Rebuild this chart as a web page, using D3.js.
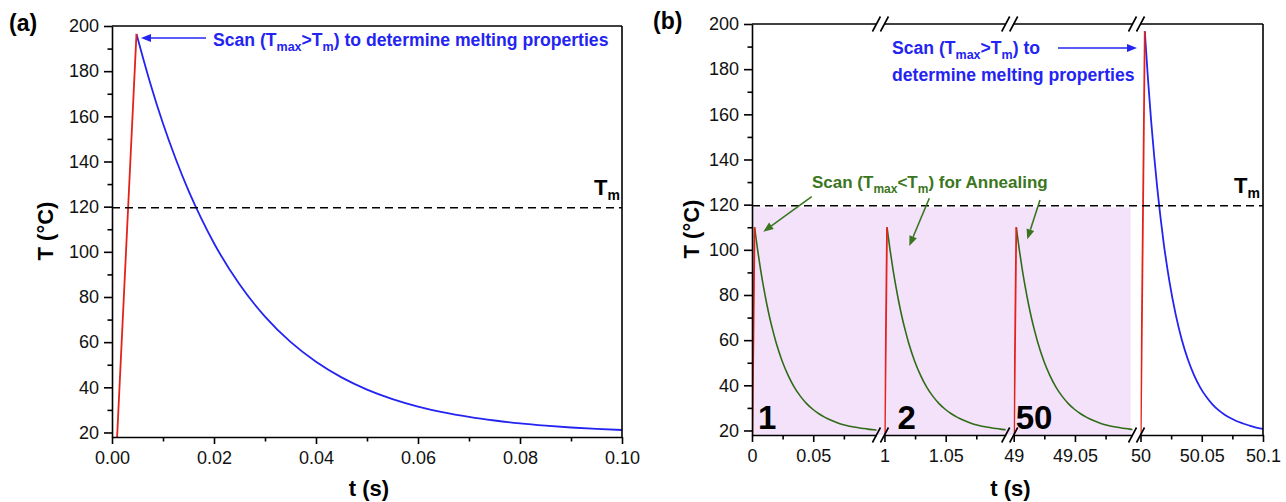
<!DOCTYPE html>
<html>
<head>
<meta charset="utf-8">
<script src="https://cdn.jsdelivr.net/npm/d3@7"></script>
<style>
body { margin: 0; background: #fff; }
text { font-family: "Liberation Sans", Arial, sans-serif; }
</style>
</head>
<body>
<svg width="1286" height="502"></svg>
<script>
// ---------- data ----------
const tempRange = [18, 200];
const tempMajor = [20, 40, 60, 80, 100, 120, 140, 160, 180, 200];
const tempMinor = [30, 50, 70, 90, 110, 130, 150, 170, 190];
const meltTemp = 119.5;

// panel (a): single melting scan
const aTimeMajor = [0, 0.02, 0.04, 0.06, 0.08, 0.10];
const aTimeMinor = [0.01, 0.03, 0.05, 0.07, 0.09];
const aHeatTime = [0.001, 0.0048];
const aHeatTemp = [18, 196.5];
const aCoolTime = [0.0048, 0.0075, 0.010, 0.0125, 0.015, 0.0175, 0.020, 0.025, 0.030, 0.035,
  0.040, 0.045, 0.050, 0.055, 0.060, 0.065, 0.070, 0.075, 0.080, 0.085, 0.090, 0.095, 0.100];
const aCoolTemp = [196.5, 174.7, 156.8, 141.1, 127.1, 114.8, 103.8, 85.6, 71.3, 60.1,
  51.3, 44.4, 39.0, 34.8, 31.5, 28.9, 26.9, 25.3, 24.0, 23.0, 22.2, 21.6, 21.1];

// panel (b): annealing cycles then melting scan, broken time axis
const bSegments = [[0, 0.1016], [1, 1.099], [49, 49.097], [50, 50.1]];
const bTimeMajor = [0, 0.05, 1, 1.05, 49, 49.05, 50, 50.05, 50.1];
const bTimeMinor = [0.025, 0.075, 1.025, 1.075, 49.025, 49.075, 50.025, 50.075];
const cycleStart = [0, 1, 49];
const cycleLabel = ["1", "2", "50"];
const annealHeatTime = [0.0003, 0.0021];          // time after cycle start
const annealHeatTemp = [18, 110];
const annealCoolTime = [0.0021, 0.0046, 0.0071, 0.0096, 0.0121, 0.0146, 0.0171, 0.0196, 0.0246,
  0.0296, 0.0346, 0.0396, 0.0446, 0.0496, 0.0546, 0.0596, 0.0646, 0.0696, 0.0746, 0.0796,
  0.0846, 0.0896, 0.0946, 0.0996, 0.1030];
const annealCoolTemp = [110, 99.9, 90.9, 83.0, 75.9, 69.6, 64.1, 59.1, 50.8,
  44.3, 39.1, 35.1, 31.9, 29.4, 27.4, 25.8, 24.5, 23.4, 22.5, 21.9,
  21.4, 21.0, 20.6, 20.3, 20.1];
const annealZone = [0, 49.0955];
const annealZoneTop = 118.8;
const bHeatTime = [50.0002, 50.0035];
const bHeatTemp = [18, 196.8];
const bCoolTime = [50.0035, 50.0062, 50.0087, 50.0112, 50.0137, 50.0162, 50.0187, 50.0237, 50.0287,
  50.0337, 50.0387, 50.0437, 50.0487, 50.0537, 50.0587, 50.0637, 50.0687, 50.0737, 50.0787,
  50.0837, 50.0887, 50.0937, 50.1];
const bCoolTemp = [196.8, 174.8, 156.9, 141.2, 127.2, 114.9, 103.9, 85.7, 71.4,
  60.2, 51.4, 44.5, 39.1, 34.9, 31.6, 29.0, 27.0, 25.4, 24.1,
  23.1, 22.2, 21.4, 20.7];

// ---------- styles ----------
const RED = "#e3231b", BLUE = "#2424f2", GREEN = "#2f6c16", GREEN_TXT = "#3a7620";
const AXIS_W = 1.6;
const TICK_FONT = 18;

const svg = d3.select("svg");
svg.append("rect").attr("width", 1286).attr("height", 502).attr("fill", "#fff");

const zip = (a, b) => a.map((v, i) => [v, b[i]]);

function styleAxis(g) {
  g.selectAll("path, line").attr("stroke", "#000").attr("stroke-width", AXIS_W);
  g.selectAll("text").attr("font-size", TICK_FONT).attr("fill", "#111");
}

function richText(g, x, y, parts, size, subSize, color, weight) {
  const t = g.append("text").attr("x", x).attr("y", y)
    .attr("font-size", size).attr("font-weight", weight || "bold").attr("fill", color);
  let down = false;
  parts.forEach(([s, sub]) => {
    const sp = t.append("tspan").text(s);
    if (sub && !down) { sp.attr("dy", 5).attr("font-size", subSize); down = true; }
    else if (sub) { sp.attr("font-size", subSize); }
    else if (down) { sp.attr("dy", -5); down = false; }
  });
  return t;
}

function arrow(g, x1, y1, x2, y2, color) {
  const a = Math.atan2(y2 - y1, x2 - x1), len = 10, hw = 4;
  const bx = x2 - len * Math.cos(a), by = y2 - len * Math.sin(a);
  g.append("line").attr("x1", x1).attr("y1", y1).attr("x2", bx).attr("y2", by)
    .attr("stroke", color).attr("stroke-width", 1.6);
  g.append("path")
    .attr("d", `M${x2},${y2}L${bx - hw * Math.sin(a)},${by + hw * Math.cos(a)}L${bx + hw * Math.sin(a)},${by - hw * Math.cos(a)}Z`)
    .attr("fill", color);
}

function yAxes(g, y, x0) {
  g.append("g").attr("transform", `translate(${x0},0)`)
    .call(d3.axisLeft(y).tickValues(tempMinor).tickSize(4.5).tickFormat("").tickSizeOuter(0))
    .call(styleAxis).select(".domain").remove();
  g.append("g").attr("transform", `translate(${x0},0)`)
    .call(d3.axisLeft(y).tickValues(tempMajor).tickSize(8).tickPadding(5).tickSizeOuter(0))
    .call(styleAxis);
}

// ---------- panel (a) ----------
const pa = { left: 112, right: 622, top: 26, bottom: 437 };
const xA = d3.scaleLinear().domain([0, 0.1]).range([pa.left, pa.right]);
const yA = d3.scaleLinear().domain(tempRange).range([pa.bottom, pa.top]);
const gA = svg.append("g");

svg.append("clipPath").attr("id", "clipA").append("rect")
  .attr("x", pa.left).attr("y", pa.top).attr("width", pa.right - pa.left).attr("height", pa.bottom - pa.top);

const lineA = d3.line().x(d => xA(d[0])).y(d => yA(d[1]));
const curvesA = gA.append("g").attr("clip-path", "url(#clipA)");
curvesA.append("path").attr("d", lineA.curve(d3.curveMonotoneX)(zip(aCoolTime, aCoolTemp)))
  .attr("fill", "none").attr("stroke", BLUE).attr("stroke-width", 1.8);
curvesA.append("path").attr("d", lineA.curve(d3.curveLinear)(zip(aHeatTime, aHeatTemp)))
  .attr("fill", "none").attr("stroke", RED).attr("stroke-width", 1.8);

gA.append("line").attr("x1", pa.left).attr("x2", pa.right)
  .attr("y1", yA(meltTemp)).attr("y2", yA(meltTemp))
  .attr("stroke", "#000").attr("stroke-width", AXIS_W).attr("stroke-dasharray", "8,5");

yAxes(gA, yA, pa.left);
gA.append("g").attr("transform", `translate(0,${pa.bottom})`)
  .call(d3.axisBottom(xA).tickValues(aTimeMinor).tickSize(4.5).tickFormat("").tickSizeOuter(0))
  .call(styleAxis).select(".domain").remove();
gA.append("g").attr("transform", `translate(0,${pa.bottom})`)
  .call(d3.axisBottom(xA).tickValues(aTimeMajor).tickSize(7).tickPadding(7).tickSizeOuter(0)
    .tickFormat(d3.format(".2f")))
  .call(styleAxis);
gA.append("line").attr("x1", pa.left).attr("x2", pa.right).attr("y1", pa.top).attr("y2", pa.top)
  .attr("stroke", "#000").attr("stroke-width", AXIS_W);
gA.append("line").attr("x1", pa.right).attr("x2", pa.right).attr("y1", pa.top).attr("y2", pa.bottom)
  .attr("stroke", "#000").attr("stroke-width", AXIS_W);

// labels (a)
gA.append("text").attr("x", 9).attr("y", 31).attr("font-size", 23).attr("font-weight", "bold").text("(a)");
gA.append("text").attr("transform", "translate(53,231) rotate(-90)").attr("text-anchor", "middle")
  .attr("font-size", 22).attr("font-weight", "bold").text("T (°C)");
gA.append("text").attr("x", (pa.left + pa.right) / 2 + 2).attr("y", 496).attr("text-anchor", "middle")
  .attr("font-size", 22).attr("font-weight", "bold").text("t (s)");
richText(gA, 594, 195, [["T"], ["m", true]], 22, 14, "#000");
richText(gA, 213, 46, [["Scan (T"], ["max", true], [">T"], ["m", true], [") to determine melting properties"]], 17.6, 12.5, BLUE);
arrow(gA, 206, 38, 141, 38, BLUE);

// ---------- panel (b) ----------
const pb = { left: 752, right: 1263, top: 24, bottom: 435 };
const gapPx = 8;
const totalSpan = d3.sum(bSegments, s => s[1] - s[0]);
const pxPerSec = (pb.right - pb.left - gapPx * (bSegments.length - 1)) / totalSpan;
let cursor = pb.left;
const segScales = bSegments.map(s => {
  const w = (s[1] - s[0]) * pxPerSec;
  const sc = d3.scaleLinear().domain(s).range([cursor, cursor + w]);
  cursor += w + gapPx;
  return sc;
});
const segOf = t => {
  let k = 0;
  bSegments.forEach((s, i) => { if (t >= s[0] - 1e-9) k = i; });
  return k;
};
const xB = t => segScales[segOf(t)](t);
const yB = d3.scaleLinear().domain(tempRange).range([pb.bottom, pb.top]);
const gB = svg.append("g");

// annealing zone
gB.append("rect").attr("x", xB(annealZone[0])).attr("width", xB(annealZone[1]) - xB(annealZone[0]))
  .attr("y", yB(annealZoneTop)).attr("height", pb.bottom - yB(annealZoneTop))
  .attr("fill", "#f4e2fb");

// curves, clipped per segment
segScales.forEach((sc, i) => {
  const r = sc.range();
  svg.append("clipPath").attr("id", "clipB" + i).append("rect")
    .attr("x", r[0]).attr("y", pb.top).attr("width", r[1] - r[0]).attr("height", pb.bottom - pb.top);
});
const lineB = d3.line().x(d => xB(d[0])).y(d => yB(d[1]));
cycleStart.forEach((t0, i) => {
  const cg = gB.append("g").attr("clip-path", `url(#clipB${segOf(t0)})`);
  cg.append("path")
    .attr("d", lineB.curve(d3.curveMonotoneX)(zip(annealCoolTime.map(t => t0 + t), annealCoolTemp)))
    .attr("fill", "none").attr("stroke", GREEN).attr("stroke-width", 1.6);
  cg.append("path")
    .attr("d", lineB.curve(d3.curveLinear)(zip(annealHeatTime.map(t => t0 + t), annealHeatTemp)))
    .attr("fill", "none").attr("stroke", RED).attr("stroke-width", 1.8);
});
const lastSeg = gB.append("g").attr("clip-path", `url(#clipB${bSegments.length - 1})`);
lastSeg.append("path").attr("d", lineB.curve(d3.curveMonotoneX)(zip(bCoolTime, bCoolTemp)))
  .attr("fill", "none").attr("stroke", BLUE).attr("stroke-width", 1.8);
lastSeg.append("path").attr("d", lineB.curve(d3.curveLinear)(zip(bHeatTime, bHeatTemp)))
  .attr("fill", "none").attr("stroke", RED).attr("stroke-width", 1.8);

gB.append("line").attr("x1", pb.left).attr("x2", pb.right)
  .attr("y1", yB(meltTemp)).attr("y2", yB(meltTemp))
  .attr("stroke", "#000").attr("stroke-width", AXIS_W).attr("stroke-dasharray", "8,5");

yAxes(gB, yB, pb.left);
gB.append("line").attr("x1", pb.right).attr("x2", pb.right).attr("y1", pb.top).attr("y2", pb.bottom)
  .attr("stroke", "#000").attr("stroke-width", AXIS_W);

segScales.forEach((sc, i) => {
  const [d0, d1] = bSegments[i];
  const inSeg = v => v >= d0 - 1e-9 && v <= d1 - 0.004;
  const inSegEnd = v => v >= d0 - 1e-9 && v <= d1 + 1e-9 && (i === bSegments.length - 1 || v <= d1 - 0.004);
  gB.append("g").attr("transform", `translate(0,${pb.bottom})`)
    .call(d3.axisBottom(sc).tickValues(bTimeMinor.filter(inSeg)).tickSize(4.5).tickFormat("").tickSizeOuter(0))
    .call(styleAxis).select(".domain").remove();
  gB.append("g").attr("transform", `translate(0,${pb.bottom})`)
    .call(d3.axisBottom(sc).tickValues(bTimeMajor.filter(inSegEnd)).tickSize(7).tickPadding(7)
      .tickSizeOuter(0).tickFormat(d => String(+d.toFixed(2))))
    .call(styleAxis);
  const r = sc.range();
  gB.append("line").attr("x1", r[0]).attr("x2", r[1]).attr("y1", pb.top).attr("y2", pb.top)
    .attr("stroke", "#000").attr("stroke-width", AXIS_W);
  // break marks
  if (i < bSegments.length - 1) {
    const xs = [r[1], segScales[i + 1].range()[0]];
    [pb.top, pb.bottom].forEach(yy => xs.forEach(xx => {
      gB.append("line").attr("x1", xx - 4).attr("y1", yy + 7.5).attr("x2", xx + 4).attr("y2", yy - 7.5)
        .attr("stroke", "#000").attr("stroke-width", AXIS_W);
    }));
  }
});

// labels (b)
gB.append("text").attr("x", 653).attr("y", 29).attr("font-size", 23).attr("font-weight", "bold").text("(b)");
gB.append("text").attr("transform", "translate(699,229) rotate(-90)").attr("text-anchor", "middle")
  .attr("font-size", 22).attr("font-weight", "bold").text("T (°C)");
gB.append("text").attr("x", (pb.left + pb.right) / 2 + 3).attr("y", 496).attr("text-anchor", "middle")
  .attr("font-size", 22).attr("font-weight", "bold").text("t (s)");
richText(gB, 1234, 193, [["T"], ["m", true]], 22, 14, "#000");
richText(gB, 892, 54, [["Scan (T"], ["max", true], [">T"], ["m", true], [") to"]], 17.6, 12.5, BLUE);
richText(gB, 892, 81, [["determine melting properties"]], 17.6, 12.5, BLUE);
arrow(gB, 1058, 48, 1137, 48, BLUE);

richText(gB, 812, 188, [["Scan (T"], ["max", true], ["<T"], ["m", true], [") for Annealing"]], 17, 12, GREEN_TXT);
arrow(gB, 811.7, 196.7, 763.3, 231.7, GREEN_TXT);
arrow(gB, 929.3, 198.3, 909.3, 246, GREEN_TXT);
arrow(gB, 1040, 200, 1027.3, 239.3, GREEN_TXT);

const cycleDx = [6, 13, 2];
cycleStart.forEach((t0, i) => {
  gB.append("text").attr("x", xB(t0) + cycleDx[i]).attr("y", 429)
    .attr("font-size", 33).attr("font-weight", "bold").attr("fill", "#000").text(cycleLabel[i]);
});
</script>
</body>
</html>
